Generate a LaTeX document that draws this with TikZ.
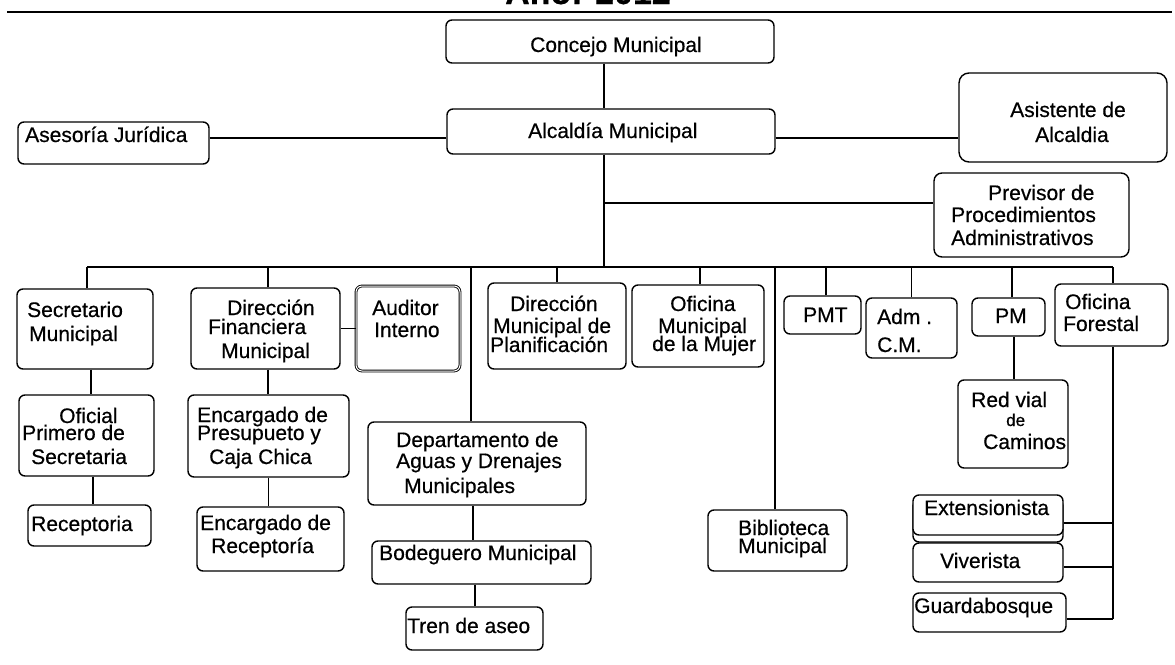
\documentclass[tikz,border=0pt]{standalone}
\usepackage{fontspec}
\setmainfont{Liberation Sans}[FakeBold=0.5]
\newfontfamily\titlefont{Liberation Sans}[FakeBold=0.5]
\tikzset{
  box/.style={draw, rounded corners=6pt, line width=1.4pt, inner sep=0pt},
  txt/.style={anchor=base west, inner sep=0pt, font=\fontsize{21}{24}\selectfont},
  conn/.style={line width=1.4pt},
}
\newcommand\obox[6][]{%
  \pgfmathsetmacro\obw{#5-#3}\pgfmathsetmacro\obh{#6-#4}%
  \pgfmathsetmacro\obx{(#3+#5)/2}\pgfmathsetmacro\oby{(#4+#6)/2}%
  \node[box,minimum width=\obw pt,minimum height=\obh pt,#1] (#2) at (\obx,\oby) {};}
\newcommand\otxt[4]{\node[txt] (#1) at (#2,#3) {#4};}
\begin{document}
\begin{tikzpicture}[x=1pt,y=-1pt]
\fill[white] (0,0) rectangle (1175,664);
\useasboundingbox (0,0) rectangle (1175,664);
% title and rule
\node[anchor=base, inner sep=0pt, font=\fontsize{34}{36}\selectfont\bfseries] (title) at (588,4) {Año: 2012};
\coordinate (ruleL) at (7,12); \coordinate (ruleR) at (1172,12);
\draw[line width=2pt] (ruleL) -- (ruleR);
% boxes
\obox{concejo}{446}{20}{774}{63}
\obox{alcaldia}{447}{109}{775}{154}
\obox{asesoria}{18}{122}{209}{164}
\obox[rounded corners=10pt]{asistente}{959}{73}{1167}{162}
\obox[rounded corners=8pt]{previsor}{934}{173}{1129}{257}
\obox{secretario}{17}{289}{153}{369}
\obox{oficial}{19}{395}{154}{476}
\obox{receptoria}{28}{505}{151}{546}
\obox{dirfin}{191}{288}{340}{369}
\obox[double, line width=0.9pt, double distance=1pt]{auditor}{356}{286}{460}{371}
\obox{encpres}{188}{395}{349}{477}
\obox{encrec}{197}{507}{344}{571}
\obox{dirplan}{488}{283}{626}{369}
\obox{oficmujer}{632}{285}{764}{367}
\obox{depto}{368}{422}{586}{505}
\obox{bodeguero}{372}{541}{591}{584}
\obox{tren}{406}{607}{543}{650}
\obox{biblioteca}{708}{510}{847}{571}
\obox{pmt}{784}{296}{861}{334}
\obox{adm}{866}{298}{957}{358}
\obox{pm}{972}{298}{1045}{336}
\obox{forestal}{1055}{284}{1168}{346}
\obox{redvial}{958}{380}{1068}{468}
\draw[line width=1.4pt, rounded corners=6pt] (913,500) rectangle (1063,542);
\obox[fill=white]{extensionista}{913}{495}{1063}{535}
\obox{viverista}{913}{543}{1063}{582}
\obox{guardabosque}{913}{593}{1066}{632}
% texts
\otxt{tConcejo}{530}{52}{Concejo Municipal}
\otxt{tAlcaldia}{528}{138}{Alcaldía Municipal}
\otxt{tAsesoria}{25}{142}{Asesoría Jurídica}
\otxt{tAsis1}{1010}{117}{Asistente de}
\otxt{tAsis2}{1035}{142}{Alcaldia}
\otxt{tPrev1}{988}{200}{Previsor de}
\otxt{tPrev2}{951}{222}{Procedimientos}
\otxt{tPrev3}{951}{245}{Administrativos}
\otxt{tSec1}{27}{317}{Secretario}
\otxt{tSec2}{29}{341}{Municipal}
\otxt{tOfi1}{59}{423}{Oficial}
\otxt{tOfi2}{22}{440}{Primero de}
\otxt{tOfi3}{31}{464}{Secretaria}
\otxt{tRec}{31}{531}{Receptoria}
\otxt{tDir1}{227}{315}{Dirección}
\otxt{tDir2}{208}{334}{Financiera}
\otxt{tDir3}{221}{358}{Municipal}
\otxt{tAud1}{372}{315}{Auditor}
\otxt{tAud2}{374}{337}{Interno}
\otxt{tEnc1}{197}{422}{Encargado de}
\otxt{tEnc2}{197}{440}{Presupueto y}
\otxt{tEnc3}{209}{464}{Caja Chica}
\otxt{tEr1}{200}{530}{Encargado de}
\otxt{tEr2}{211}{553}{Receptoría}
\otxt{tPl1}{510}{311}{Dirección}
\otxt{tPl2}{493}{333}{Municipal de}
\otxt{tPl3}{490}{352}{Planificación}
\otxt{tMu1}{670}{311}{Oficina}
\otxt{tMu2}{658}{333}{Municipal}
\otxt{tMu3}{652}{351}{de la Mujer}
\otxt{tDe1}{396}{447}{Departamento de}
\otxt{tDe2}{396}{468}{Aguas y Drenajes}
\otxt{tDe3}{404}{493}{Municipales}
\otxt{tBod}{379}{560}{Bodeguero Municipal}
\otxt{tTren}{407}{633}{Tren de aseo}
\otxt{tBib1}{738}{535}{Biblioteca}
\otxt{tBib2}{738}{553}{Municipal}
\otxt{tPmt}{803}{322}{PMT}
\otxt{tAdm1}{877}{324}{Adm .}
\otxt{tAdm2}{877}{352}{C.M.}
\otxt{tPm}{995}{323}{PM}
\otxt{tFo1}{1065}{309}{Oficina}
\otxt{tFo2}{1063}{331}{Forestal}
\otxt{tRv1}{971}{407}{Red vial}
\node[txt, font=\fontsize{17}{20}\selectfont] (tRv2) at (1006,426) {de};
\otxt{tRv3}{983}{449}{Caminos}
\otxt{tExt}{924}{515}{Extensionista}
\otxt{tViv}{940}{568}{Viverista}
\otxt{tGua}{914}{613}{Guardabosque}
% connectors
\coordinate (yA) at (0,138);
\coordinate (yP) at (0,203);
\coordinate (busL) at (87,267);
\coordinate (busR) at (1113,267);
\coordinate (fEnd) at (1113,619);
\draw[conn] ([xshift=-6pt]concejo.south) -- ([xshift=-7pt]alcaldia.north);
\draw[conn] (asesoria.east |- yA) -- (alcaldia.west |- yA);
\draw[conn] (alcaldia.east |- yA) -- (asistente.west |- yA);
\draw[conn] ([xshift=-7pt]alcaldia.south) coordinate (mainTop) -- (mainTop |- busL);
\draw[conn] (mainTop |- yP) -- (previsor.west |- yP);
\draw[conn] (busL) -- (busR);
\draw[conn] ([xshift=2pt]secretario.north) -- ([xshift=2pt]secretario.north |- busL);
\draw[conn] ([xshift=2.5pt]dirfin.north) -- ([xshift=2.5pt]dirfin.north |- busL);
\draw[conn] ([xshift=-6pt]depto.north) -- ([xshift=-6pt]depto.north |- busL);
\draw[conn] (dirplan.north) -- (dirplan.north |- busL);
\draw[conn] ([xshift=2pt]oficmujer.north) -- ([xshift=2pt]oficmujer.north |- busL);
\draw[conn] ([xshift=-2.5pt]biblioteca.north) -- ([xshift=-2.5pt]biblioteca.north |- busL);
\draw[conn] ([xshift=3.5pt]pmt.north) -- ([xshift=3.5pt]pmt.north |- busL);
\draw[conn] (adm.north) -- (adm.north |- busL);
\draw[conn] ([xshift=3.5pt]pm.north) -- ([xshift=3.5pt]pm.north |- busL);
\draw[conn] ([xshift=1.5pt]forestal.north) -- (busR);
\draw[conn] ([xshift=1.5pt]forestal.south) -- (fEnd);
\draw[conn] ([xshift=6pt]secretario.south) -- ([xshift=6pt]secretario.south |- oficial.north);
\draw[conn] ([xshift=6.5pt]oficial.south) -- ([xshift=6.5pt]oficial.south |- receptoria.north);
\draw[conn] ([xshift=2.5pt]dirfin.south) -- ([xshift=2.5pt]dirfin.south |- encpres.north);
\draw[conn] (encpres.south) -- (encpres.south |- encrec.north);
\draw[conn] (dirfin.east) -- (auditor.west |- dirfin.east);
\draw[conn] ([xshift=-4pt]depto.south) -- ([xshift=-4pt]depto.south |- bodeguero.north);
\draw[conn] ([xshift=-6.5pt]bodeguero.south) -- ([xshift=-6.5pt]bodeguero.south |- tren.north);
\draw[conn] ([xshift=5.5pt]pm.south) -- ([xshift=5.5pt]pm.south |- redvial.north);
\draw[conn] ([yshift=-8pt]extensionista.east) -- ([yshift=-8pt]extensionista.east -| fEnd);
\draw[conn] ([yshift=-4.5pt]viverista.east) -- ([yshift=-4.5pt]viverista.east -| fEnd);
\draw[conn] ([yshift=-6.5pt]guardabosque.east) -- (fEnd);
\end{tikzpicture}
\end{document}
